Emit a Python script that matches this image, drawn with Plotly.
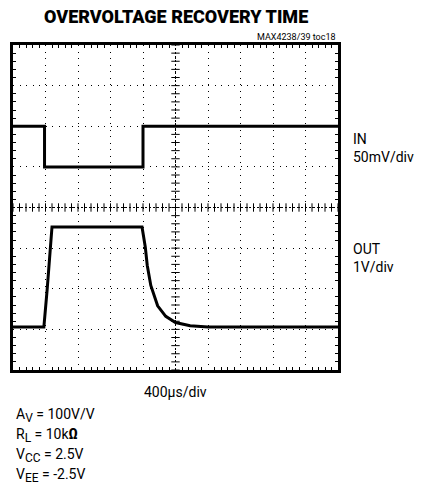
import numpy as np
import plotly.graph_objects as go

# Screen units: divisions (x: 0..10 at 400us/div, y: -4..4 divisions)
in_t = [0.0, 0.97, 0.97, 4.0, 4.0, 10.0]
in_v = [2.0, 2.0, 1.0, 1.0, 2.0, 2.0]

out_t = [0.0, 0.95, 1.05, 1.2, 3.97, 4.03, 4.07, 4.13, 4.24, 4.45, 4.7, 5.0, 5.45, 6.0, 10.0]
out_v = [-2.94, -2.94, -2.03, -0.48, -0.48, -0.72, -0.97, -1.42, -1.92, -2.42, -2.68, -2.83, -2.91, -2.94, -2.94]

title = "OVERVOLTAGE RECOVERY TIME"
toc = "MAX4238/39 toc18"
x_label = "400μs/div"
in_label = "IN<br>50mV/div"
out_label = "OUT<br>1V/div"
SUB = "<sub><span style='font-size:12px'>{}</span></sub>"
cond_lines = ["A" + SUB.format("V") + " = 100V/V",
              "R" + SUB.format("L") + " = 10k<b>Ω</b>",
              "V" + SUB.format("CC") + " = 2.5V",
              "V" + SUB.format("EE") + " = -2.5V"]

FONT = "Roboto, Liberation Sans, sans-serif"

fig = go.Figure()

# center graticule with small tick marks
minor = np.round(np.arange(0, 10.001, 0.2), 3)
minor_y = np.round(np.arange(-4, 4.001, 0.2), 3)
fig.add_trace(go.Scatter(x=[0, 10], y=[0, 0], mode="lines",
                         line=dict(color="black", width=1, dash="2px,2px"), hoverinfo="skip"))
fig.add_trace(go.Scatter(x=[5, 5], y=[-4, 4], mode="lines",
                         line=dict(color="black", width=1, dash="2px,2px"), hoverinfo="skip"))
fig.add_trace(go.Scatter(x=minor, y=[0] * len(minor), mode="markers",
                         marker=dict(symbol="line-ns", size=6, line=dict(color="black", width=1)),
                         hoverinfo="skip"))
fig.add_trace(go.Scatter(x=[5] * len(minor_y), y=minor_y, mode="markers",
                         marker=dict(symbol="line-ew", size=6, line=dict(color="black", width=1)),
                         hoverinfo="skip"))

fig.add_trace(go.Scatter(x=in_t, y=in_v, mode="lines",
                         line=dict(color="black", width=3), hoverinfo="skip"))
fig.add_trace(go.Scatter(x=out_t, y=out_v, mode="lines",
                         line=dict(color="black", width=3), hoverinfo="skip"))

axis_common = dict(showline=True, linecolor="black", linewidth=3, mirror="allticks",
                   showgrid=True, gridcolor="black", gridwidth=1, griddash="1px,5.5px",
                   zeroline=False, showticklabels=False, ticks="", dtick=1,
                   minor=dict(dtick=0.2, ticks="inside", ticklen=3, tickcolor="black",
                              tickwidth=1, showgrid=False))
fig.update_xaxes(range=[0, 10], **axis_common)
fig.update_yaxes(range=[-4, 4], **axis_common)

def px2x(px):
    return (px - 13) / 325.0

def py2y(py):
    return (370 - py) / 325.0

ann = []
ann.append(dict(text=title, x=0.5, y=py2y(17), xanchor="center", yanchor="middle",
                font=dict(family=FONT, size=18, color="black", weight=900)))
ann.append(dict(text=toc, x=1.0, y=py2y(37), xanchor="right", yanchor="middle",
                font=dict(family=FONT, size=9, color="black")))
ann.append(dict(text=in_label, x=px2x(351), y=py2y(148), xanchor="left", yanchor="middle", align="left",
                font=dict(family=FONT, size=14, color="black")))
ann.append(dict(text=out_label, x=px2x(351), y=py2y(258), xanchor="left", yanchor="middle", align="left",
                font=dict(family=FONT, size=14, color="black")))
ann.append(dict(text=x_label, x=0.5, y=py2y(392), xanchor="center", yanchor="middle",
                font=dict(family=FONT, size=14, color="black")))
for i, t in enumerate(cond_lines):
    ann.append(dict(text=t, x=px2x(14), y=py2y(415 + 20 * i), xanchor="left", yanchor="middle",
                    font=dict(family=FONT, size=14, color="black")))
for a in ann:
    a.update(xref="paper", yref="paper", showarrow=False)

fig.update_layout(width=425, height=486, margin=dict(l=13, r=87, t=45, b=116),
                  paper_bgcolor="white", plot_bgcolor="white", showlegend=False,
                  annotations=ann)

fig.write_html("out.html", config={"displayModeBar": False},
               post_script="document.body.style.margin='0';")
